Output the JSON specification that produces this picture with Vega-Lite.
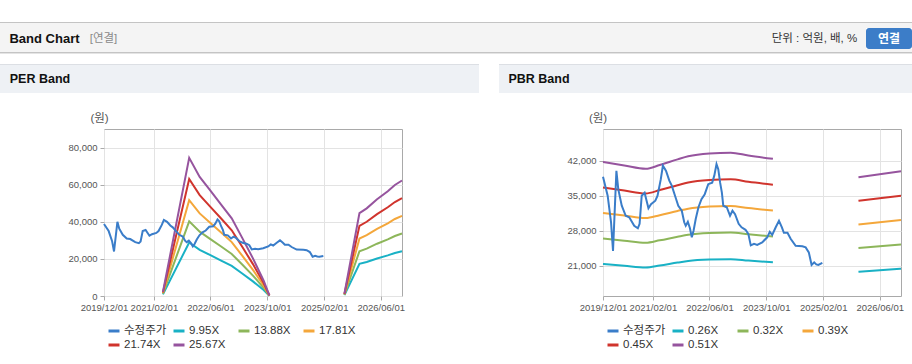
{
  "$schema": "https://vega.github.io/schema/vega-lite/v6.json",
  "background": "#ffffff",
  "padding": {"top": 22, "left": 0, "right": 0, "bottom": 0},
  "config": {
    "font": "Liberation Sans, Noto Sans CJK KR, sans-serif",
    "view": {"stroke": null}
  },
  "datasets": {
    "price": [
      {"date": "2019-12-01", "value": 38800}, {"date": "2020-01-10", "value": 35000}, {"date": "2020-02-08", "value": 29700},
      {"date": "2020-02-25", "value": 24000}, {"date": "2020-03-25", "value": 39950}, {"date": "2020-04-10", "value": 36300},
      {"date": "2020-05-10", "value": 33000}, {"date": "2020-06-13", "value": 31000}, {"date": "2020-07-13", "value": 30700},
      {"date": "2020-08-25", "value": 29000}, {"date": "2020-09-25", "value": 28500}, {"date": "2020-10-10", "value": 29400},
      {"date": "2020-10-28", "value": 35000}, {"date": "2020-11-22", "value": 35600}, {"date": "2020-12-25", "value": 32500},
      {"date": "2021-01-16", "value": 33300}, {"date": "2021-02-22", "value": 34000}, {"date": "2021-03-13", "value": 35000},
      {"date": "2021-04-10", "value": 38300}, {"date": "2021-04-28", "value": 41000}, {"date": "2021-05-25", "value": 39950},
      {"date": "2021-06-22", "value": 38000}, {"date": "2021-07-13", "value": 37000}, {"date": "2021-08-10", "value": 35000},
      {"date": "2021-09-07", "value": 33000}, {"date": "2021-10-07", "value": 32000}, {"date": "2021-10-28", "value": 29700},
      {"date": "2021-11-10", "value": 29000}, {"date": "2021-11-28", "value": 29800}, {"date": "2021-12-16", "value": 28500},
      {"date": "2022-01-01", "value": 26700}, {"date": "2022-01-16", "value": 28000}, {"date": "2022-02-04", "value": 30400},
      {"date": "2022-02-27", "value": 32700}, {"date": "2022-03-25", "value": 34300}, {"date": "2022-04-22", "value": 35300},
      {"date": "2022-05-22", "value": 37300}, {"date": "2022-06-25", "value": 37600}, {"date": "2022-07-13", "value": 39000},
      {"date": "2022-08-01", "value": 41300}, {"date": "2022-08-16", "value": 40300}, {"date": "2022-09-01", "value": 37600},
      {"date": "2022-09-16", "value": 35600}, {"date": "2022-09-28", "value": 33000}, {"date": "2022-10-28", "value": 32700},
      {"date": "2022-11-25", "value": 31000}, {"date": "2022-12-16", "value": 32000}, {"date": "2023-01-07", "value": 31300},
      {"date": "2023-02-07", "value": 29400}, {"date": "2023-03-04", "value": 28700}, {"date": "2023-04-07", "value": 28200},
      {"date": "2023-05-01", "value": 27400}, {"date": "2023-05-22", "value": 25100}, {"date": "2023-06-19", "value": 25400},
      {"date": "2023-07-16", "value": 25200}, {"date": "2023-08-28", "value": 25700}, {"date": "2023-10-10", "value": 26700},
      {"date": "2023-11-01", "value": 27800}, {"date": "2023-11-22", "value": 27200}, {"date": "2023-12-22", "value": 28700},
      {"date": "2024-01-19", "value": 30000}, {"date": "2024-02-13", "value": 28700}, {"date": "2024-03-01", "value": 27600},
      {"date": "2024-04-01", "value": 27600}, {"date": "2024-04-28", "value": 26400}, {"date": "2024-06-10", "value": 25000},
      {"date": "2024-08-07", "value": 24900}, {"date": "2024-09-04", "value": 24700}, {"date": "2024-10-01", "value": 23700},
      {"date": "2024-10-25", "value": 21200}, {"date": "2024-11-16", "value": 21700}, {"date": "2024-12-04", "value": 21300},
      {"date": "2024-12-22", "value": 21200}, {"date": "2025-01-25", "value": 21600}
    ],
    "per": [
      {"date": "2021-04-20", "series": "9.95X", "seg": 1, "value": 896},
      {"date": "2021-12-01", "series": "9.95X", "seg": 1, "value": 28855},
      {"date": "2022-03-01", "series": "9.95X", "seg": 1, "value": 24875},
      {"date": "2022-06-01", "series": "9.95X", "seg": 1, "value": 21990},
      {"date": "2022-09-01", "series": "9.95X", "seg": 1, "value": 19104},
      {"date": "2022-12-01", "series": "9.95X", "seg": 1, "value": 16219},
      {"date": "2023-03-01", "series": "9.95X", "seg": 1, "value": 12139},
      {"date": "2023-06-01", "series": "9.95X", "seg": 1, "value": 7861},
      {"date": "2023-09-01", "series": "9.95X", "seg": 1, "value": 3184},
      {"date": "2023-10-20", "series": "9.95X", "seg": 1, "value": 149},
      {"date": "2025-07-25", "series": "9.95X", "seg": 2, "value": 498},
      {"date": "2025-12-01", "series": "9.95X", "seg": 2, "value": 17313},
      {"date": "2026-02-01", "series": "9.95X", "seg": 2, "value": 18308},
      {"date": "2026-05-01", "series": "9.95X", "seg": 2, "value": 20199},
      {"date": "2026-08-01", "series": "9.95X", "seg": 2, "value": 21890},
      {"date": "2026-10-01", "series": "9.95X", "seg": 2, "value": 23184},
      {"date": "2026-12-01", "series": "9.95X", "seg": 2, "value": 24129},
      {"date": "2021-04-20", "series": "13.88X", "seg": 1, "value": 1249},
      {"date": "2021-12-01", "series": "13.88X", "seg": 1, "value": 40252},
      {"date": "2022-03-01", "series": "13.88X", "seg": 1, "value": 34700},
      {"date": "2022-06-01", "series": "13.88X", "seg": 1, "value": 30675},
      {"date": "2022-09-01", "series": "13.88X", "seg": 1, "value": 26650},
      {"date": "2022-12-01", "series": "13.88X", "seg": 1, "value": 22624},
      {"date": "2023-03-01", "series": "13.88X", "seg": 1, "value": 16934},
      {"date": "2023-06-01", "series": "13.88X", "seg": 1, "value": 10965},
      {"date": "2023-09-01", "series": "13.88X", "seg": 1, "value": 4442},
      {"date": "2023-10-20", "series": "13.88X", "seg": 1, "value": 208},
      {"date": "2025-07-25", "series": "13.88X", "seg": 2, "value": 694},
      {"date": "2025-12-01", "series": "13.88X", "seg": 2, "value": 24151},
      {"date": "2026-02-01", "series": "13.88X", "seg": 2, "value": 25539},
      {"date": "2026-05-01", "series": "13.88X", "seg": 2, "value": 28176},
      {"date": "2026-08-01", "series": "13.88X", "seg": 2, "value": 30536},
      {"date": "2026-10-01", "series": "13.88X", "seg": 2, "value": 32340},
      {"date": "2026-12-01", "series": "13.88X", "seg": 2, "value": 33659},
      {"date": "2021-04-20", "series": "17.81X", "seg": 1, "value": 1603},
      {"date": "2021-12-01", "series": "17.81X", "seg": 1, "value": 51649},
      {"date": "2022-03-01", "series": "17.81X", "seg": 1, "value": 44525},
      {"date": "2022-06-01", "series": "17.81X", "seg": 1, "value": 39360},
      {"date": "2022-09-01", "series": "17.81X", "seg": 1, "value": 34195},
      {"date": "2022-12-01", "series": "17.81X", "seg": 1, "value": 29030},
      {"date": "2023-03-01", "series": "17.81X", "seg": 1, "value": 21728},
      {"date": "2023-06-01", "series": "17.81X", "seg": 1, "value": 14070},
      {"date": "2023-09-01", "series": "17.81X", "seg": 1, "value": 5699},
      {"date": "2023-10-20", "series": "17.81X", "seg": 1, "value": 267},
      {"date": "2025-07-25", "series": "17.81X", "seg": 2, "value": 891},
      {"date": "2025-12-01", "series": "17.81X", "seg": 2, "value": 30989},
      {"date": "2026-02-01", "series": "17.81X", "seg": 2, "value": 32770},
      {"date": "2026-05-01", "series": "17.81X", "seg": 2, "value": 36154},
      {"date": "2026-08-01", "series": "17.81X", "seg": 2, "value": 39182},
      {"date": "2026-10-01", "series": "17.81X", "seg": 2, "value": 41497},
      {"date": "2026-12-01", "series": "17.81X", "seg": 2, "value": 43189},
      {"date": "2021-04-20", "series": "21.74X", "seg": 1, "value": 1957},
      {"date": "2021-12-01", "series": "21.74X", "seg": 1, "value": 63046},
      {"date": "2022-03-01", "series": "21.74X", "seg": 1, "value": 54350},
      {"date": "2022-06-01", "series": "21.74X", "seg": 1, "value": 48045},
      {"date": "2022-09-01", "series": "21.74X", "seg": 1, "value": 41741},
      {"date": "2022-12-01", "series": "21.74X", "seg": 1, "value": 35436},
      {"date": "2023-03-01", "series": "21.74X", "seg": 1, "value": 26523},
      {"date": "2023-06-01", "series": "21.74X", "seg": 1, "value": 17175},
      {"date": "2023-09-01", "series": "21.74X", "seg": 1, "value": 6957},
      {"date": "2023-10-20", "series": "21.74X", "seg": 1, "value": 326},
      {"date": "2025-07-25", "series": "21.74X", "seg": 2, "value": 1087},
      {"date": "2025-12-01", "series": "21.74X", "seg": 2, "value": 37828},
      {"date": "2026-02-01", "series": "21.74X", "seg": 2, "value": 40002},
      {"date": "2026-05-01", "series": "21.74X", "seg": 2, "value": 44132},
      {"date": "2026-08-01", "series": "21.74X", "seg": 2, "value": 47828},
      {"date": "2026-10-01", "series": "21.74X", "seg": 2, "value": 50654},
      {"date": "2026-12-01", "series": "21.74X", "seg": 2, "value": 52720},
      {"date": "2021-04-20", "series": "25.67X", "seg": 1, "value": 2310},
      {"date": "2021-12-01", "series": "25.67X", "seg": 1, "value": 74443},
      {"date": "2022-03-01", "series": "25.67X", "seg": 1, "value": 64175},
      {"date": "2022-06-01", "series": "25.67X", "seg": 1, "value": 56731},
      {"date": "2022-09-01", "series": "25.67X", "seg": 1, "value": 49286},
      {"date": "2022-12-01", "series": "25.67X", "seg": 1, "value": 41842},
      {"date": "2023-03-01", "series": "25.67X", "seg": 1, "value": 31317},
      {"date": "2023-06-01", "series": "25.67X", "seg": 1, "value": 20279},
      {"date": "2023-09-01", "series": "25.67X", "seg": 1, "value": 8214},
      {"date": "2023-10-20", "series": "25.67X", "seg": 1, "value": 385},
      {"date": "2025-07-25", "series": "25.67X", "seg": 2, "value": 1284},
      {"date": "2025-12-01", "series": "25.67X", "seg": 2, "value": 44666},
      {"date": "2026-02-01", "series": "25.67X", "seg": 2, "value": 47233},
      {"date": "2026-05-01", "series": "25.67X", "seg": 2, "value": 52110},
      {"date": "2026-08-01", "series": "25.67X", "seg": 2, "value": 56474},
      {"date": "2026-10-01", "series": "25.67X", "seg": 2, "value": 59811},
      {"date": "2026-12-01", "series": "25.67X", "seg": 2, "value": 62250}
    ],
    "pbr": [
      {"date": "2019-12-01", "series": "0.26X", "seg": 1, "value": 21402},
      {"date": "2020-06-01", "series": "0.26X", "seg": 1, "value": 21037},
      {"date": "2020-12-01", "series": "0.26X", "seg": 1, "value": 20697},
      {"date": "2021-04-01", "series": "0.26X", "seg": 1, "value": 21089},
      {"date": "2021-09-01", "series": "0.26X", "seg": 1, "value": 21663},
      {"date": "2021-12-01", "series": "0.26X", "seg": 1, "value": 21976},
      {"date": "2022-06-01", "series": "0.26X", "seg": 1, "value": 22263},
      {"date": "2022-12-01", "series": "0.26X", "seg": 1, "value": 22342},
      {"date": "2023-05-01", "series": "0.26X", "seg": 1, "value": 22055},
      {"date": "2023-11-28", "series": "0.26X", "seg": 1, "value": 21715},
      {"date": "2025-12-01", "series": "0.26X", "seg": 2, "value": 19836},
      {"date": "2026-06-01", "series": "0.26X", "seg": 2, "value": 20149},
      {"date": "2026-12-01", "series": "0.26X", "seg": 2, "value": 20436},
      {"date": "2019-12-01", "series": "0.32X", "seg": 1, "value": 26486},
      {"date": "2020-06-01", "series": "0.32X", "seg": 1, "value": 26034},
      {"date": "2020-12-01", "series": "0.32X", "seg": 1, "value": 25614},
      {"date": "2021-04-01", "series": "0.32X", "seg": 1, "value": 26098},
      {"date": "2021-09-01", "series": "0.32X", "seg": 1, "value": 26809},
      {"date": "2021-12-01", "series": "0.32X", "seg": 1, "value": 27197},
      {"date": "2022-06-01", "series": "0.32X", "seg": 1, "value": 27552},
      {"date": "2022-12-01", "series": "0.32X", "seg": 1, "value": 27649},
      {"date": "2023-05-01", "series": "0.32X", "seg": 1, "value": 27294},
      {"date": "2023-11-28", "series": "0.32X", "seg": 1, "value": 26874},
      {"date": "2025-12-01", "series": "0.32X", "seg": 2, "value": 24548},
      {"date": "2026-06-01", "series": "0.32X", "seg": 2, "value": 24936},
      {"date": "2026-12-01", "series": "0.32X", "seg": 2, "value": 25291},
      {"date": "2019-12-01", "series": "0.39X", "seg": 1, "value": 31570},
      {"date": "2020-06-01", "series": "0.39X", "seg": 1, "value": 31031},
      {"date": "2020-12-01", "series": "0.39X", "seg": 1, "value": 30531},
      {"date": "2021-04-01", "series": "0.39X", "seg": 1, "value": 31108},
      {"date": "2021-09-01", "series": "0.39X", "seg": 1, "value": 31955},
      {"date": "2021-12-01", "series": "0.39X", "seg": 1, "value": 32417},
      {"date": "2022-06-01", "series": "0.39X", "seg": 1, "value": 32841},
      {"date": "2022-12-01", "series": "0.39X", "seg": 1, "value": 32956},
      {"date": "2023-05-01", "series": "0.39X", "seg": 1, "value": 32533},
      {"date": "2023-11-28", "series": "0.39X", "seg": 1, "value": 32032},
      {"date": "2025-12-01", "series": "0.39X", "seg": 2, "value": 29260},
      {"date": "2026-06-01", "series": "0.39X", "seg": 2, "value": 29722},
      {"date": "2026-12-01", "series": "0.39X", "seg": 2, "value": 30146},
      {"date": "2019-12-01", "series": "0.45X", "seg": 1, "value": 36654},
      {"date": "2020-06-01", "series": "0.45X", "seg": 1, "value": 36028},
      {"date": "2020-12-01", "series": "0.45X", "seg": 1, "value": 35447},
      {"date": "2021-04-01", "series": "0.45X", "seg": 1, "value": 36118},
      {"date": "2021-09-01", "series": "0.45X", "seg": 1, "value": 37101},
      {"date": "2021-12-01", "series": "0.45X", "seg": 1, "value": 37637},
      {"date": "2022-06-01", "series": "0.45X", "seg": 1, "value": 38129},
      {"date": "2022-12-01", "series": "0.45X", "seg": 1, "value": 38263},
      {"date": "2023-05-01", "series": "0.45X", "seg": 1, "value": 37772},
      {"date": "2023-11-28", "series": "0.45X", "seg": 1, "value": 37190},
      {"date": "2025-12-01", "series": "0.45X", "seg": 2, "value": 33972},
      {"date": "2026-06-01", "series": "0.45X", "seg": 2, "value": 34508},
      {"date": "2026-12-01", "series": "0.45X", "seg": 2, "value": 35000},
      {"date": "2019-12-01", "series": "0.51X", "seg": 1, "value": 41738},
      {"date": "2020-06-01", "series": "0.51X", "seg": 1, "value": 41025},
      {"date": "2020-12-01", "series": "0.51X", "seg": 1, "value": 40364},
      {"date": "2021-04-01", "series": "0.51X", "seg": 1, "value": 41127},
      {"date": "2021-09-01", "series": "0.51X", "seg": 1, "value": 42247},
      {"date": "2021-12-01", "series": "0.51X", "seg": 1, "value": 42858},
      {"date": "2022-06-01", "series": "0.51X", "seg": 1, "value": 43418},
      {"date": "2022-12-01", "series": "0.51X", "seg": 1, "value": 43570},
      {"date": "2023-05-01", "series": "0.51X", "seg": 1, "value": 43011},
      {"date": "2023-11-28", "series": "0.51X", "seg": 1, "value": 42349},
      {"date": "2025-12-01", "series": "0.51X", "seg": 2, "value": 38684},
      {"date": "2026-06-01", "series": "0.51X", "seg": 2, "value": 39295},
      {"date": "2026-12-01", "series": "0.51X", "seg": 2, "value": 39855}
    ]
  },
  "spacing": 0,
  "bounds": "full",
  "vconcat": [
    {"width": 912, "height": 1, "view": {"fill": "#c4c4c4"}, "data": {"values": []}, "mark": "text"},
    {"width": 912, "height": 5, "view": {"fill": "#f4f4f4"}, "data": {"values": []}, "mark": "text"},
    {
      "spacing": 0,
      "bounds": "flush",
      "hconcat": [
        {"width": 89, "height": 21, "view": {"fill": "#f4f4f4"}, "data": {"values": [{"t": "Band Chart"}]},
         "mark": {"type": "text", "fontSize": 13, "fontWeight": "bold", "color": "#111111"}, "encoding": {"text": {"field": "t"}}},
        {"width": 29, "height": 21, "view": {"fill": "#f4f4f4"}, "data": {"values": [{"t": "[연결]"}]},
         "mark": {"type": "text", "fontSize": 11.5, "color": "#8a8a8a"}, "encoding": {"text": {"field": "t"}}},
        {"width": 645, "height": 21, "view": {"fill": "#f4f4f4"}, "data": {"values": []}, "mark": "text"},
        {"width": 103, "height": 21, "view": {"fill": "#f4f4f4"}, "data": {"values": [{"t": "단위 : 억원, 배, %"}]},
         "mark": {"type": "text", "fontSize": 11.5, "color": "#333333"}, "encoding": {"text": {"field": "t"}}},
        {"width": 46, "height": 21, "view": {"fill": "#3c7dc8", "cornerRadius": 3}, "data": {"values": [{"t": "연결"}]},
         "mark": {"type": "text", "fontSize": 12, "fontWeight": "bold", "color": "#ffffff"}, "encoding": {"text": {"field": "t"}}}
      ]
    },
    {"width": 912, "height": 3, "view": {"fill": "#f4f4f4"}, "data": {"values": []}, "mark": "text"},
    {"width": 912, "height": 1, "view": {"fill": "#c4c4c4"}, "data": {"values": []}, "mark": "text"},
    {"width": 912, "height": 1, "view": {"fill": "#e4e4e4"}, "data": {"values": []}, "mark": "text"},
    {"width": 912, "height": 10, "data": {"values": []}, "mark": "text"},
    {
      "spacing": 0,
      "bounds": "flush",
      "hconcat": [
        {"width": 479, "height": 1, "view": {"fill": "#dcdfe4"}, "data": {"values": []}, "mark": "text"},
        {"width": 20, "height": 1, "data": {"values": []}, "mark": "text"},
        {"width": 413, "height": 1, "view": {"fill": "#dcdfe4"}, "data": {"values": []}, "mark": "text"}
      ]
    },
    {
      "spacing": 0,
      "bounds": "flush",
      "hconcat": [
        {"width": 80, "height": 28, "view": {"fill": "#eef1f5"}, "data": {"values": [{"t": "PER Band"}]},
         "mark": {"type": "text", "fontSize": 12.5, "fontWeight": "bold", "color": "#111111"}, "encoding": {"text": {"field": "t"}}},
        {"width": 399, "height": 28, "view": {"fill": "#eef1f5"}, "data": {"values": []}, "mark": "text"},
        {"width": 20, "height": 28, "data": {"values": []}, "mark": "text"},
        {"width": 80, "height": 28, "view": {"fill": "#eef1f5"}, "data": {"values": [{"t": "PBR Band"}]},
         "mark": {"type": "text", "fontSize": 12.5, "fontWeight": "bold", "color": "#111111"}, "encoding": {"text": {"field": "t"}}},
        {"width": 333, "height": 28, "view": {"fill": "#eef1f5"}, "data": {"values": []}, "mark": "text"}
      ]
    },
    {
      "spacing": 0,
      "bounds": "flush",
      "hconcat": [
        {"width": 79, "height": 35, "data": {"values": []}, "mark": "text"},
        {"width": 41, "height": 35, "data": {"values": [{"t": "(원)"}]},
         "mark": {"type": "text", "fontSize": 11.5, "color": "#555555", "dy": 8.5}, "encoding": {"text": {"field": "t"}}},
        {"width": 458, "height": 35, "data": {"values": []}, "mark": "text"},
        {"width": 40, "height": 35, "data": {"values": [{"t": "(원)"}]},
         "mark": {"type": "text", "fontSize": 11.5, "color": "#555555", "dy": 8.5}, "encoding": {"text": {"field": "t"}}},
        {"width": 294, "height": 35, "data": {"values": []}, "mark": "text"}
      ]
    },
    {
      "spacing": 0,
      "bounds": "flush",
      "resolve": {"scale": {"color": "independent"}, "legend": {"color": "independent"}},
      "hconcat": [
        {"width": 104, "height": 235, "data": {"values": []}, "mark": "text"},
        {
          "width": 298,
          "height": 167,
          "view": {"stroke": "#a9a9a9", "strokeWidth": 1},
          "encoding": {
            "x": {
              "field": "date", "type": "temporal",
              "scale": {"type": "utc", "domain": [{"year": 2019, "month": 12, "date": 1, "utc": true}, {"year": 2026, "month": 12, "date": 1, "utc": true}]},
              "axis": {
                "title": null, "format": "%Y/%m/%d",
                "values": [
                  {"year": 2019, "month": 12, "date": 1, "utc": true},
                  {"year": 2021, "month": 2, "date": 1, "utc": true},
                  {"year": 2022, "month": 6, "date": 1, "utc": true},
                  {"year": 2023, "month": 10, "date": 1, "utc": true},
                  {"year": 2025, "month": 2, "date": 1, "utc": true},
                  {"year": 2026, "month": 6, "date": 1, "utc": true}
                ],
                "labelFontSize": 9.5, "labelColor": "#555555", "labelPadding": 2, "labelFlush": false, "labelOverlap": false,
                "grid": true, "gridColor": "#e3e3e3", "domain": false, "tickSize": 4, "tickColor": "#aaaaaa"
              }
            },
            "y": {
              "field": "value", "type": "quantitative",
              "scale": {"domain": [0, 90000], "nice": false, "zero": false},
              "axis": {
                "title": null,
                "values": [0, 20000, 40000, 60000, 80000], "format": ",.0f",
                "labelFontSize": 9.5, "labelColor": "#555555", "labelPadding": 3,
                "grid": true, "gridColor": "#e3e3e3", "domain": false, "tickSize": 4, "tickColor": "#aaaaaa"
              }
            }
          },
          "layer": [
            {
              "data": {"name": "per"},
              "mark": {"type": "line", "strokeWidth": 2},
              "encoding": {
                "color": {
                  "field": "series", "type": "nominal",
                  "scale": {"domain": ["수정주가", "9.95X", "13.88X", "17.81X", "21.74X", "25.67X"], "range": ["#3a7dc9", "#19b1c5", "#8db65a", "#f4a73b", "#d0342d", "#96549e"]},
                  "legend": {
                    "title": null, "orient": "none", "legendX": 3, "legendY": 195, "direction": "horizontal", "columns": 4, "gridAlign": "all",
                    "symbolType": "stroke", "symbolSize": 121, "symbolStrokeWidth": 3, "labelFontSize": 11.5, "labelColor": "#333333",
                    "labelOffset": 3, "columnPadding": 0, "rowPadding": 1, "padding": 0, "labelLimit": 200
                  }
                },
                "detail": {"field": "seg", "type": "nominal"}
              }
            },
            {
              "data": {"name": "price"},
              "mark": {"type": "line", "strokeWidth": 2},
              "encoding": {"color": {"datum": "수정주가", "type": "nominal"}}
            }
          ]
        },
        {"width": 77, "height": 235, "data": {"values": []}, "mark": "text"},
        {"width": 20, "height": 235, "data": {"values": []}, "mark": "text"},
        {"width": 104, "height": 235, "data": {"values": []}, "mark": "text"},
        {
          "width": 298,
          "height": 167,
          "view": {"stroke": "#a9a9a9", "strokeWidth": 1},
          "encoding": {
            "x": {
              "field": "date", "type": "temporal",
              "scale": {"type": "utc", "domain": [{"year": 2019, "month": 12, "date": 1, "utc": true}, {"year": 2026, "month": 12, "date": 1, "utc": true}]},
              "axis": {
                "title": null, "format": "%Y/%m/%d",
                "values": [
                  {"year": 2019, "month": 12, "date": 1, "utc": true},
                  {"year": 2021, "month": 2, "date": 1, "utc": true},
                  {"year": 2022, "month": 6, "date": 1, "utc": true},
                  {"year": 2023, "month": 10, "date": 1, "utc": true},
                  {"year": 2025, "month": 2, "date": 1, "utc": true},
                  {"year": 2026, "month": 6, "date": 1, "utc": true}
                ],
                "labelFontSize": 9.5, "labelColor": "#555555", "labelPadding": 2, "labelFlush": false, "labelOverlap": false,
                "grid": true, "gridColor": "#e3e3e3", "domain": false, "tickSize": 4, "tickColor": "#aaaaaa"
              }
            },
            "y": {
              "field": "value", "type": "quantitative",
              "scale": {"domain": [15000, 48300], "nice": false, "zero": false},
              "axis": {
                "title": null,
                "values": [21000, 28000, 35000, 42000], "format": ",.0f",
                "labelFontSize": 9.5, "labelColor": "#555555", "labelPadding": 3,
                "grid": true, "gridColor": "#e3e3e3", "domain": false, "tickSize": 4, "tickColor": "#aaaaaa"
              }
            }
          },
          "layer": [
            {
              "data": {"name": "pbr"},
              "mark": {"type": "line", "strokeWidth": 2, "interpolate": "monotone"},
              "encoding": {
                "color": {
                  "field": "series", "type": "nominal",
                  "scale": {"domain": ["수정주가", "0.26X", "0.32X", "0.39X", "0.45X", "0.51X"], "range": ["#3a7dc9", "#19b1c5", "#8db65a", "#f4a73b", "#d0342d", "#96549e"]},
                  "legend": {
                    "title": null, "orient": "none", "legendX": 3, "legendY": 195, "direction": "horizontal", "columns": 4, "gridAlign": "all",
                    "symbolType": "stroke", "symbolSize": 121, "symbolStrokeWidth": 3, "labelFontSize": 11.5, "labelColor": "#333333",
                    "labelOffset": 3, "columnPadding": 0, "rowPadding": 1, "padding": 0, "labelLimit": 200
                  }
                },
                "detail": {"field": "seg", "type": "nominal"}
              }
            },
            {
              "data": {"name": "price"},
              "mark": {"type": "line", "strokeWidth": 2},
              "encoding": {"color": {"datum": "수정주가", "type": "nominal"}}
            }
          ]
        },
        {"width": 11, "height": 235, "data": {"values": []}, "mark": "text"}
      ]
    },
    {
      "spacing": 0,
      "bounds": "flush",
      "hconcat": [
        {"width": 479, "height": 1, "view": {"fill": "#dcdcdc"}, "data": {"values": []}, "mark": "text"},
        {"width": 20, "height": 1, "data": {"values": []}, "mark": "text"},
        {"width": 413, "height": 1, "view": {"fill": "#dcdcdc"}, "data": {"values": []}, "mark": "text"}
      ]
    }
  ]
}
